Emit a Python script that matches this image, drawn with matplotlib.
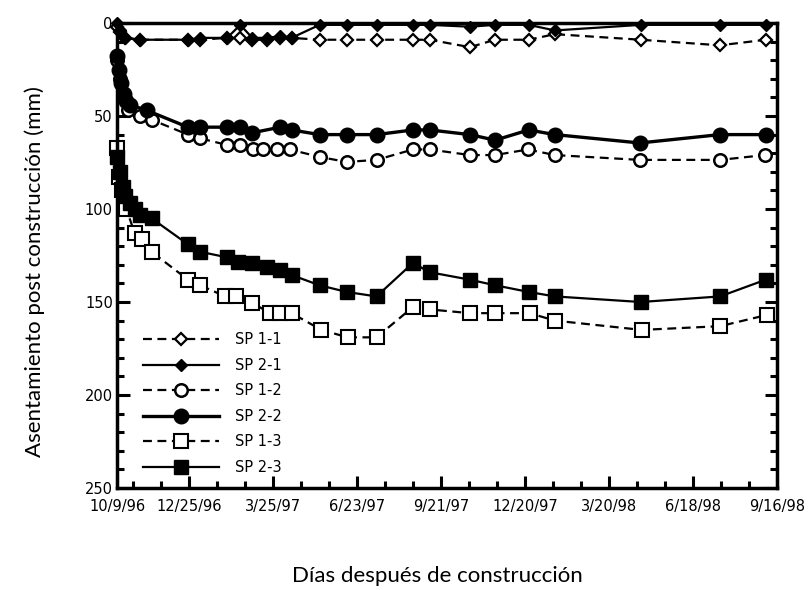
import matplotlib
matplotlib.use("Agg")
import matplotlib.pyplot as plt
from matplotlib.ticker import MultipleLocator, FixedLocator

# x values: days after 10/9/96
tick_days = [0, 77, 167, 257, 347, 437, 527, 617, 707]
tick_labels = ["10/9/96", "12/25/96", "3/25/97", "6/23/97", "9/21/97",
               "12/20/97", "3/20/98", "6/18/98", "9/16/98"]

sp11_x = [0, 3, 9, 25, 76, 89, 118, 132, 145, 161, 175, 187, 217, 246, 278,
          317, 335, 378, 405, 441, 469, 561, 646, 695]
sp11_y = [2, 5, 8, 9, 9, 9, 8, 8, 9, 9, 8, 8, 9, 9, 9,
          9, 9, 13, 9, 9, 6, 9, 12, 9]

sp21_x = [0, 3, 9, 25, 76, 89, 118, 132, 145, 161, 175, 187, 217, 246, 278,
          317, 335, 378, 405, 441, 469, 561, 646, 695]
sp21_y = [0, 4, 8, 9, 9, 8, 8, 1, 8, 8, 7, 8, 1, 1, 1,
          1, 1, 2, 1, 1, 4, 1, 1, 1]

sp12_x = [0, 3, 7, 12, 25, 37, 76, 89, 118, 132, 146, 156, 171, 185, 217,
          246, 278, 317, 335, 378, 405, 440, 469, 560, 646, 694]
sp12_y = [20, 30, 40, 47, 50, 52, 60, 62, 65.6, 65.6, 68, 68, 68, 68, 72,
          74.7, 73.6, 68, 68, 71, 71, 68, 71, 73.6, 73.6, 71]

sp22_x = [0, 2, 4, 7, 10, 14, 32, 76, 89, 118, 132, 145, 175, 187, 217,
          246, 278, 317, 335, 378, 405, 441, 469, 560, 646, 695]
sp22_y = [18, 25, 32, 38, 42, 44, 47, 56, 56, 56, 56, 59, 56, 57.5, 60,
          60, 60, 57.5, 57.5, 60, 63, 57.5, 60, 64.5, 60, 60]

sp13_x = [0, 2, 5, 10, 19, 27, 37, 76, 89, 116, 128, 145, 164, 175, 187,
          219, 247, 278, 317, 335, 378, 405, 442, 469, 562, 646, 696]
sp13_y = [67, 83, 90, 100, 113, 116, 123, 138, 141, 147, 147, 150.5, 156, 156, 156,
          165, 169, 169, 152.7, 154, 156, 156, 156, 160, 165, 163, 157]

sp23_x = [0, 3, 6, 9, 14, 19, 25, 37, 76, 89, 118, 130, 145, 161, 175, 187,
          217, 246, 278, 317, 335, 378, 405, 441, 469, 561, 646, 695]
sp23_y = [72, 80, 88, 93, 97, 100, 103, 105, 119, 123, 126, 128.5, 129, 131, 133, 135.5,
          141, 144.6, 147, 129, 134, 138, 141, 144.6, 147, 150, 147, 138]

plt.rcParams['font.family'] = ['DejaVu Sans']

fig = plt.figure(figsize=(8.09, 5.90), dpi=100)
ax = fig.add_axes([117/809, (590-488)/590, 660/809, 465/590])

dash = (0, (4, 2.5))
common = dict(clip_on=False, markeredgecolor='black', color='black')

ax.plot(sp11_x, sp11_y, linestyle=dash, lw=1.6, marker='D', ms=6.5,
        markerfacecolor='white', markeredgewidth=1.6, label='SP 1-1', **common)
ax.plot(sp21_x, sp21_y, linestyle='-', lw=1.6, marker='D', ms=6.5,
        markerfacecolor='black', label='SP 2-1', **common)
ax.plot(sp12_x, sp12_y, linestyle=dash, lw=1.6, marker='o', ms=9,
        markerfacecolor='white', markeredgewidth=1.8, label='SP 1-2', **common)
ax.plot(sp22_x, sp22_y, linestyle='-', lw=2.4, marker='o', ms=10.5,
        markerfacecolor='black', label='SP 2-2', **common)
ax.plot(sp13_x, sp13_y, linestyle=dash, lw=1.6, marker='s', ms=9.5,
        markerfacecolor='white', markeredgewidth=1.5, label='SP 1-3', **common)
ax.plot(sp23_x, sp23_y, linestyle='-', lw=1.6, marker='s', ms=10.5,
        markerfacecolor='black', label='SP 2-3', **common)

ax.set_xlim(0, 707)
ax.set_ylim(250, 0)

ax.xaxis.set_major_locator(FixedLocator(tick_days))
ax.set_xticklabels(tick_labels)
minor_days = [d for d in range(17, 707, 30) if d not in tick_days]
ax.xaxis.set_minor_locator(FixedLocator(minor_days))

ax.yaxis.set_major_locator(MultipleLocator(50))
ax.yaxis.set_minor_locator(MultipleLocator(10))

for s in ax.spines.values():
    s.set_linewidth(2.5)

ax.tick_params(axis='both', which='major', direction='in', length=9, width=2.2,
               labelsize=10.5, pad=4)
ax.tick_params(axis='both', which='minor', direction='in', length=5, width=2.2)
ax.tick_params(axis='y', which='both', right=True, left=True, pad=3)
ax.tick_params(axis='x', which='both', top=False, pad=8)

leg = ax.legend(loc='upper left', bbox_to_anchor=(0.04, 0.335), frameon=False,
                fontsize=10.5, handlelength=5.2, handletextpad=1.1,
                labelspacing=0.72, borderpad=0, borderaxespad=0, numpoints=1)

fig.text(35/809, 1 - 272/590, "Asentamiento post construcción (mm)",
         rotation=90, ha='center', va='center', fontsize=16, family=['Lato', 'DejaVu Sans'])
fig.text(437/809, 1 - 576/590, "Días después de construcción",
         ha='center', va='center', fontsize=16, family=['Lato', 'DejaVu Sans'])

fig.savefig("out.png", dpi=100)
